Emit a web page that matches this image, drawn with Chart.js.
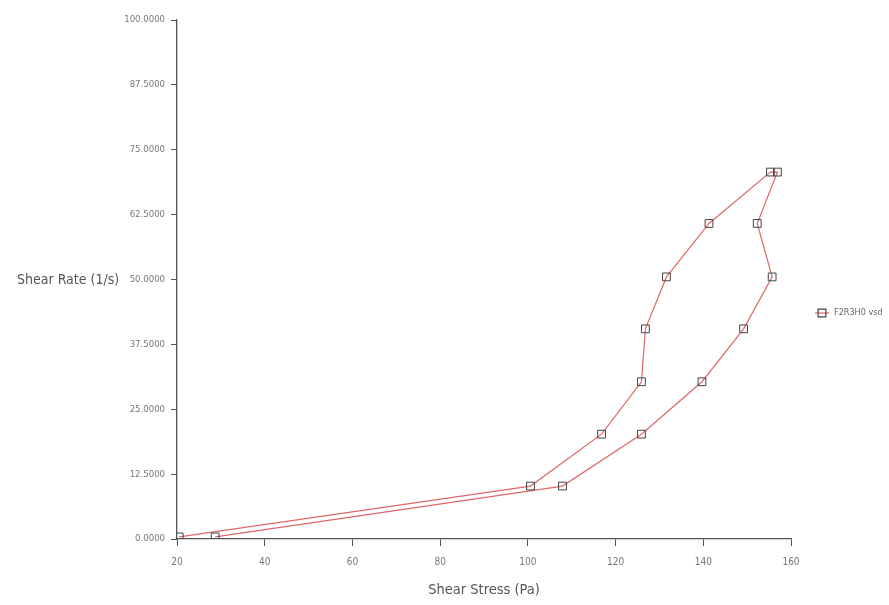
<!DOCTYPE html>
<html>
<head>
<meta charset="utf-8">
<script src="https://cdn.jsdelivr.net/npm/chart.js@4/dist/chart.umd.min.js"></script>
<style>
  body { margin: 0; background: #fff; }
  canvas { display: block; }
</style>
</head>
<body>
<canvas id="rheoChart" width="889" height="605"></canvas>
<script>
// values (ramp up, then ramp down)
const shearStress = [20.5, 100.6, 116.8, 125.9, 126.8, 131.6, 141.3, 155.3,
                     156.9, 152.3, 155.7, 149.2, 139.7, 125.9, 107.9, 28.7];
const shearRate = [0.4, 10.2, 20.2, 30.3, 40.5, 50.5, 60.8, 70.7,
                   70.7, 60.8, 50.5, 40.5, 30.3, 20.2, 10.2, 0.4];
const seriesName = "F2R3H0 vsd";
const xTitle = "Shear Stress (Pa)";
const yTitle = "Shear Rate (1/s)";

const narrow = '"Liberation Sans Narrow", "Arial Narrow", "DejaVu Sans Condensed", sans-serif';
const lineColor = "#e06868";
const markColor = "#444";

// horizontal y title and the legend on the right
const extras = {
    id: "extras",
    afterDraw(chart) {
        const ctx = chart.ctx;
        const area = chart.chartArea;
        ctx.save();
        ctx.fillStyle = "#555";
        ctx.font = "14px " + narrow;
        ctx.textAlign = "left";
        ctx.textBaseline = "middle";
        ctx.fillText(yTitle, 17, 280);

        const ly = 313;
        const lx = area.right + 31;
        ctx.strokeStyle = lineColor;
        ctx.lineWidth = 1.2;
        ctx.beginPath();
        ctx.moveTo(lx - 7, ly);
        ctx.lineTo(lx + 7, ly);
        ctx.stroke();
        ctx.strokeStyle = markColor;
        ctx.fillStyle = "rgba(255,255,255,0)";
        Chart.helpers.drawPoint(ctx, { pointStyle: "rect", radius: 5.5, borderWidth: 1 }, lx, ly);
        ctx.fillStyle = "#666";
        ctx.font = "9px " + narrow;
        ctx.fillText(seriesName, lx + 12, ly);
        ctx.restore();
    }
};

new Chart(document.getElementById("rheoChart").getContext("2d"), {
    type: "scatter",
    data: {
        datasets: [{
            label: seriesName,
            data: shearStress.map((x, i) => ({ x: x, y: shearRate[i] })),
            showLine: true,
            borderColor: lineColor,
            borderWidth: 1.2,
            tension: 0,
            pointStyle: "rect",
            pointRadius: 5.5,
            pointBorderColor: markColor,
            pointBorderWidth: 1,
            pointBackgroundColor: "rgba(255,255,255,0)"
        }]
    },
    options: {
        responsive: false,
        animation: false,
        layout: { padding: { left: 0, top: 20, right: 98, bottom: 0 } },
        plugins: {
            legend: { display: false },
            tooltip: { enabled: false }
        },
        scales: {
            x: {
                type: "linear",
                min: 20,
                max: 160,
                afterFit: scale => { scale.height = 66; },
                ticks: {
                    stepSize: 20,
                    color: "#777",
                    padding: 10,
                    font: { family: narrow, size: 10 }
                },
                grid: { drawOnChartArea: false, tickLength: 7, color: "#555" },
                border: { color: "#555", width: 1.3 },
                title: {
                    display: true,
                    text: xTitle,
                    color: "#555",
                    padding: { top: 0, bottom: 6 },
                    font: { family: narrow, size: 14.5 }
                }
            },
            y: {
                min: 0,
                max: 100,
                afterFit: scale => { scale.width = 177; },
                ticks: {
                    stepSize: 12.5,
                    color: "#777",
                    padding: 6,
                    font: { family: narrow, size: 9.5 },
                    callback: v => v.toFixed(4)
                },
                grid: { drawOnChartArea: false, tickLength: 6, color: "#555" },
                border: { color: "#555", width: 1.3 }
            }
        }
    },
    plugins: [extras]
});
</script>
</body>
</html>
